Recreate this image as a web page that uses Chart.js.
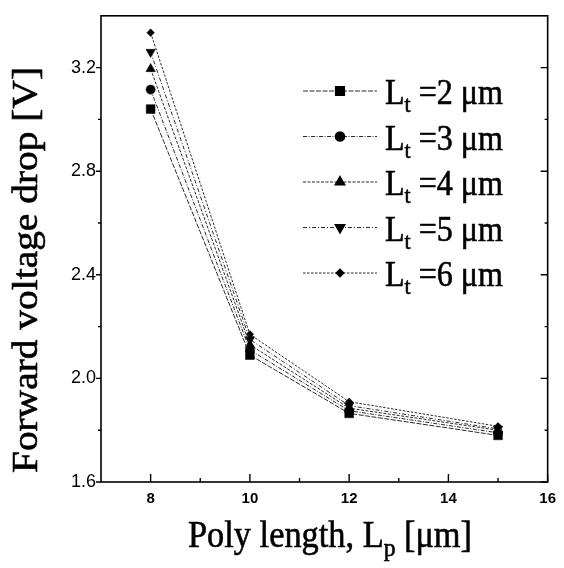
<!DOCTYPE html>
<html>
<head>
<meta charset="utf-8">
<script src="https://cdn.jsdelivr.net/npm/chart.js@4.4.1/dist/chart.umd.min.js"></script>
<style>
  html, body { margin: 0; padding: 0; background: #fff; }
  #chart { display: block; }
</style>
</head>
<body>
<canvas id="chart" width="564" height="568"></canvas>
<script>
// poly length Lp (um) on x, forward voltage drop (V) per trench length Lt
const polyLength = [8, 10, 12, 15];
const ltSizes = [2, 3, 4, 5, 6];
const drop2 = [3.04, 2.09, 1.865, 1.78];
const drop3 = [3.115, 2.11, 1.875, 1.79];
const drop4 = [3.195, 2.13, 1.885, 1.80];
const drop5 = [3.26, 2.15, 1.895, 1.805];
const drop6 = [3.335, 2.17, 1.91, 1.815];

const xTicks = [8, 10, 12, 14, 16];
const xMinor = [9, 11, 13, 15];
const yTicks = [1.6, 2.0, 2.4, 2.8, 3.2];
const yMinor = [1.8, 2.2, 2.6, 3.0];

const SERIF = '"Liberation Serif", "Times New Roman", serif';
const SANS = '"Liberation Sans", Arial, sans-serif';

const markers = [
  { pointStyle: "rect", radius: 6.2, rotation: 0, dash: [5, 1.5] },
  { pointStyle: "circle", radius: 4.6, rotation: 0, dash: [4, 1.5, 1, 1.5] },
  { pointStyle: "triangle", radius: 5.5, rotation: 0, dash: [3, 1.5] },
  { pointStyle: "triangle", radius: 5.5, rotation: 180, dash: [4, 2, 1, 2] },
  { pointStyle: "rectRot", radius: 3.8, rotation: 0, dash: [2.5, 1.5] },
];

const series = [drop2, drop3, drop4, drop5, drop6];

const datasets = series.map(function (vals, i) {
  let m = markers[i];
  return {
    label: "Lt =" + ltSizes[i] + " μm",
    data: polyLength.map((x, j) => ({ x: x, y: vals[j] })),
    borderColor: "#2a2a2a",
    borderWidth: 1,
    borderDash: m.dash,
    pointStyle: m.pointStyle,
    pointRadius: m.radius,
    pointRotation: m.rotation,
    pointBackgroundColor: "#000",
    pointBorderColor: "#000",
    pointBorderWidth: 0.5,
    tension: 0,
    fill: false,
  };
});

// draws a run of text pieces (some subscripted), squeezed to a given width
function drawRich(ctx, parts, x, baseline, width) {
  let total = 0;
  parts.forEach(function (p) {
    ctx.font = p.size + "px " + SERIF;
    p.w = ctx.measureText(p.t).width;
    total += p.w;
  });
  let k = width ? width / total : 1;
  ctx.save();
  ctx.translate(x, baseline);
  ctx.scale(k, 1);
  ctx.fillStyle = "#000";
  ctx.strokeStyle = "#000";
  ctx.lineWidth = 0.6;
  ctx.textAlign = "left";
  ctx.textBaseline = "alphabetic";
  let cx = 0;
  parts.forEach(function (p) {
    ctx.font = p.size + "px " + SERIF;
    ctx.fillText(p.t, cx, p.dy || 0);
    ctx.strokeText(p.t, cx, p.dy || 0);
    cx += p.w;
  });
  ctx.restore();
}

const framePlugin = {
  id: "frame",
  afterDraw: function (chart) {
    const ctx = chart.ctx;
    const a = chart.chartArea;
    const xs = chart.scales.x;
    const ys = chart.scales.y;
    ctx.save();
    ctx.strokeStyle = "#000";
    ctx.lineWidth = 1.6;
    ctx.strokeRect(a.left, a.top, a.right - a.left, a.bottom - a.top);

    ctx.lineWidth = 1.4;
    ctx.beginPath();
    xTicks.forEach(function (v) {
      let px = xs.getPixelForValue(v);
      ctx.moveTo(px, a.bottom);
      ctx.lineTo(px, a.bottom - 8);
    });
    xMinor.forEach(function (v) {
      let px = xs.getPixelForValue(v);
      ctx.moveTo(px, a.bottom);
      ctx.lineTo(px, a.bottom - 4);
    });
    yTicks.forEach(function (v) {
      let py = ys.getPixelForValue(v);
      ctx.moveTo(a.left, py);
      ctx.lineTo(a.left - 5, py);
      ctx.moveTo(a.right, py);
      ctx.lineTo(a.right - 7, py);
    });
    yMinor.forEach(function (v) {
      let py = ys.getPixelForValue(v);
      ctx.moveTo(a.left, py);
      ctx.lineTo(a.left - 3, py);
      ctx.moveTo(a.right, py);
      ctx.lineTo(a.right - 3, py);
    });
    ctx.stroke();

    // legend
    chart.data.datasets.forEach(function (ds, i) {
      let y = 91 + i * 45.5;
      ctx.save();
      ctx.strokeStyle = ds.borderColor;
      ctx.lineWidth = 1;
      ctx.setLineDash(ds.borderDash);
      ctx.beginPath();
      ctx.moveTo(303, y);
      ctx.lineTo(377, y);
      ctx.stroke();
      ctx.restore();
      ctx.fillStyle = "#000";
      ctx.strokeStyle = "#000";
      Chart.helpers.drawPoint(ctx, {
        pointStyle: ds.pointStyle,
        radius: ds.pointRadius,
        rotation: ds.pointRotation,
        borderWidth: 0.5,
      }, 340, y);
      drawRich(ctx, [
        { t: "L", size: 35 },
        { t: "t", size: 24, dy: 8 },
        { t: " =" + ltSizes[i] + " μm", size: 35 },
      ], 385, y + 13, 118);
    });

    // axis titles
    drawRich(ctx, [
      { t: "Poly length, L", size: 38 },
      { t: "p", size: 26, dy: 9 },
      { t: " [μm]", size: 38 },
    ], 188, 547, 284);

    ctx.save();
    ctx.translate(37, 473);
    ctx.rotate(-Math.PI / 2);
    drawRich(ctx, [{ t: "Forward voltage drop [V]", size: 36 }], 0, 0, 406);
    ctx.restore();

    ctx.restore();
  },
};

new Chart(document.getElementById("chart"), {
  type: "line",
  data: { datasets: datasets },
  options: {
    responsive: false,
    devicePixelRatio: 1,
    animation: false,
    layout: { padding: { top: 8, right: 16, left: 0, bottom: 0 } },
    plugins: { legend: { display: false }, tooltip: { enabled: false } },
    scales: {
      x: {
        type: "linear",
        min: 7,
        max: 16,
        grid: { display: false, drawTicks: false },
        border: { display: false },
        afterBuildTicks: function (s) {
          s.ticks = xTicks.map((v) => ({ value: v }));
        },
        afterFit: function (s) {
          s.height = 86;
        },
        ticks: {
          color: "#000",
          padding: 8,
          maxRotation: 0,
          font: { family: SANS, size: 15, weight: "bold" },
        },
      },
      y: {
        type: "linear",
        min: 1.6,
        max: 3.4,
        grid: { display: false, drawTicks: false },
        border: { display: false },
        afterBuildTicks: function (s) {
          s.ticks = yTicks.map((v) => ({ value: v }));
        },
        afterFit: function (s) {
          s.width = 101;
        },
        ticks: {
          color: "#000",
          padding: 5,
          font: { family: SANS, size: 18 },
          callback: (v) => v.toFixed(1),
        },
      },
    },
  },
  plugins: [framePlugin],
});
</script>
</body>
</html>
